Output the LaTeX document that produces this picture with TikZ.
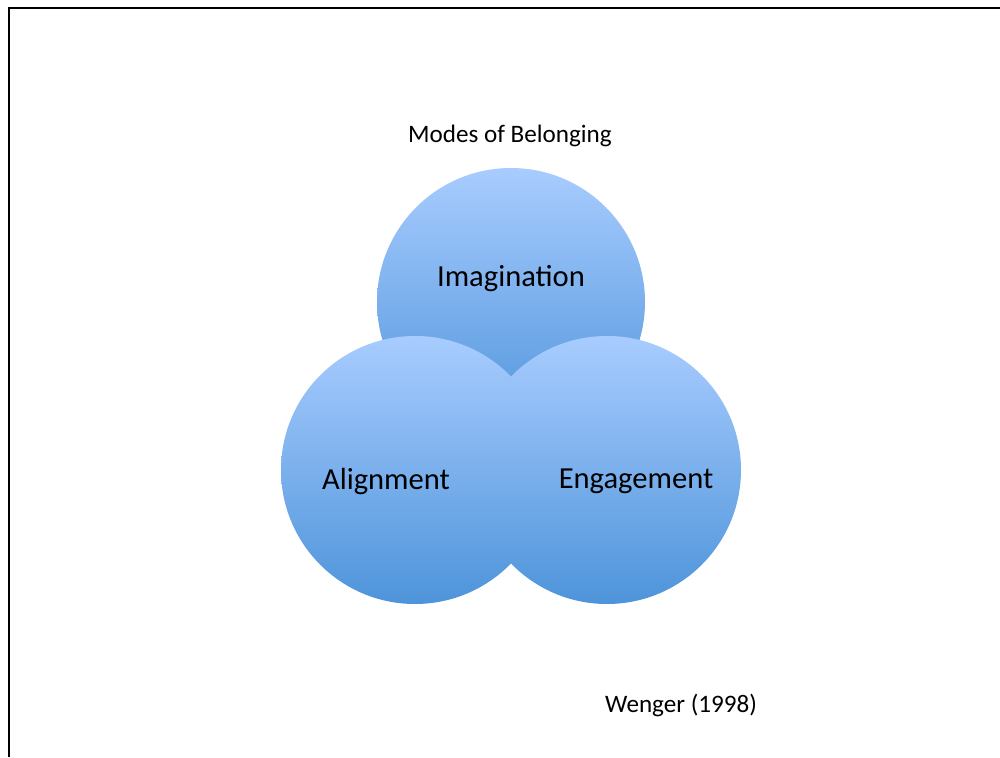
\documentclass[tikz,border=0pt]{standalone}
\usepackage{fontspec}
\setmainfont{Carlito}
\usepackage{xcolor}
\usetikzlibrary{positioning}
\definecolor{lightsky}{HTML}{A8CCFF}
\definecolor{deepsky}{HTML}{4E94DA}
\tikzset {
  % shaded mode circle
  mode/.style = {circle, minimum size=5.36cm, inner sep=0pt, top color=lightsky, bottom color=deepsky},
  % text inside circles
  modetext/.style = {font=\fontsize{17.4}{20}\selectfont, black},
  note/.style = {font=\fontsize{14.3}{17}\selectfont, black},
}
\begin{document}
\begin{tikzpicture}
        \useasboundingbox (0,0) rectangle (20,15.14);
        \coordinate (fb) at (0.18,0);
        \coordinate (fc) at (0.18,14.98);
        \coordinate (fr) at (20,14.98);
        \draw[line width=1.2pt] (fb) -- (fc) -- (fr);

        \node[note] (title) at (10.2,12.42) {Modes of Belonging};

        \node[mode] (img) at (10.22,9.10) {};
        \node[mode] (ali) at (8.30,5.74) {};
        \node[mode] (eng) at (12.14,5.74) {};

        \node[modetext] (imgtxt) at (10.22,9.57) {Imagination};
        \node[modetext] (alitxt) at (7.72,5.51) {Alignment};
        \node[modetext] (engtxt) at (12.72,5.51) {Engagement};

        \node[note] (cite) at (13.62,1.04) {Wenger (1998)};
      \end{tikzpicture}
\end{document}
